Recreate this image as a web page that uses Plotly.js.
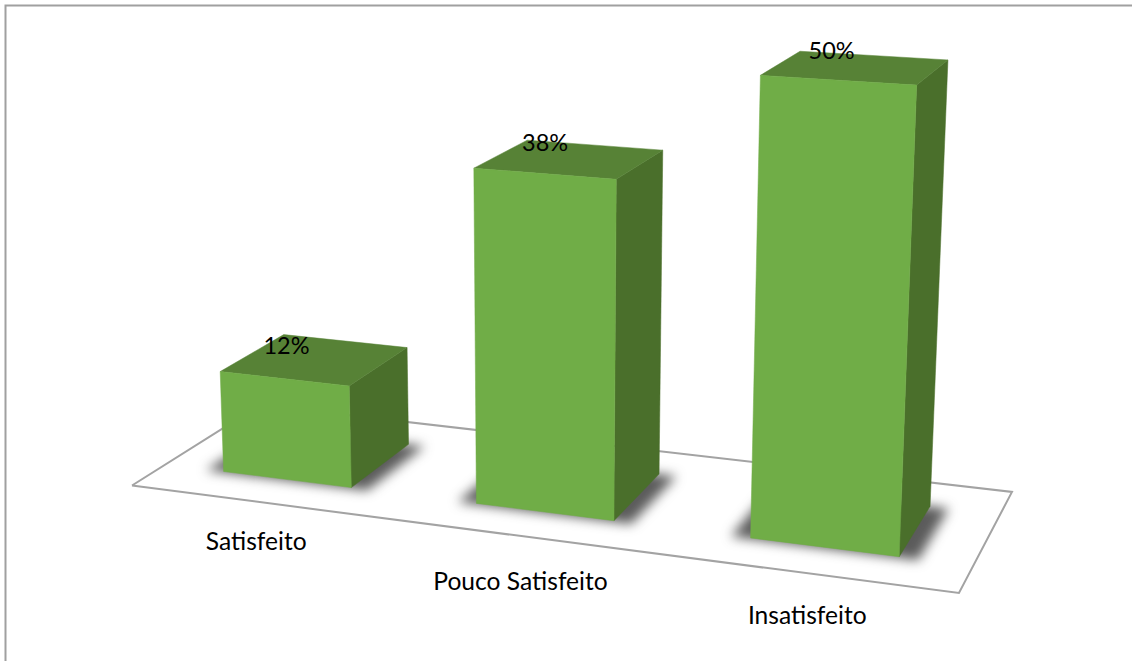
<!DOCTYPE html>
<html>
<head>
<meta charset="utf-8">
<title>Satisfação</title>
<script src="https://cdn.plot.ly/plotly-3.0.1.min.js"></script>
<style>
html,body{margin:0;padding:0;background:#fff}
#chart{width:1132px;height:661px}
#chart text{font-variant-ligatures:none}
</style>
</head>
<body>
<div id="chart"></div>
<script>
// Chart data
const categories = ['Satisfeito', 'Pouco Satisfeito', 'Insatisfeito'];
const percentages = [12, 38, 50];

// Where each bar stands on the floor, as fractions of the floor's width and depth
const barCentres = [0.165, 0.4975, 0.832];
const barHalfWidth = 0.0855;
const barFront = 0.245;
const barBack = 0.755;

// Anchors for the text, in floor fractions
const valueLabelX = [0.110, 0.443, 0.784];
const valueLabelDepth = [0.595, 0.69, 0.75];
const categoryLabelX = [0.228, 0.55, 0.864];
const categoryLabelDepth = [-0.363, -0.397, -0.358];

// Perspective camera: floor fractions and percentage height to page position
const floorRow = [721.1, 155.95, 132];
const floorCol = [42.0, -37.0, 485.5];
const floorW = [-0.1104, 0.1075, 1];
const heightScale = -0.00088;
const vanish = [550, 10000];

function project(x, depth, height) {
  const a = heightScale * height;
  const w = floorW[0] * x + floorW[1] * depth + floorW[2] + a;
  return [
    (floorRow[0] * x + floorRow[1] * depth + floorRow[2] + a * vanish[0]) / w,
    (floorCol[0] * x + floorCol[1] * depth + floorCol[2] + a * vanish[1]) / w
  ];
}

function polygon(corners, fill, line, lineWidth) {
  const pts = corners.map(c => project(c[0], c[1], c[2]));
  pts.push(pts[0]);
  return {
    type: 'scatter', mode: 'lines', fill: 'toself', fillcolor: fill,
    x: pts.map(p => p[0]), y: pts.map(p => p[1]),
    line: { color: line, width: lineWidth },
    hoverinfo: 'skip', showlegend: false
  };
}

const traces = [];

// Floor plate
traces.push(polygon([[0, 0, 0], [1, 0, 0], [1, 1, 0], [0, 1, 0]], '#ffffff', '#a3a3a3', 2));

// Footprint shadow under each bar; softened after the plot is drawn
const shadowStart = traces.length;
barCentres.forEach(c => {
  const hw = barHalfWidth + 0.022;
  const f = barFront - 0.01;
  traces.push(polygon(
    [[c - hw, f, 0], [c + hw, f, 0], [c + hw, barBack, 0], [c - hw, barBack, 0]],
    'rgba(50,50,50,0.8)', 'rgba(0,0,0,0)', 0));
});
const shadowEnd = traces.length;

// Bars: right side, top and front faces
categories.forEach((_, i) => {
  const l = barCentres[i] - barHalfWidth;
  const r = barCentres[i] + barHalfWidth;
  const v = percentages[i];
  traces.push(polygon([[r, barFront, 0], [r, barBack, 0], [r, barBack, v], [r, barFront, v]], '#4a6f2b', '#4a6f2b', 0.5));
  traces.push(polygon([[l, barFront, v], [r, barFront, v], [r, barBack, v], [l, barBack, v]], '#578236', '#578236', 0.5));
  traces.push(polygon([[l, barFront, 0], [r, barFront, 0], [r, barFront, v], [l, barFront, v]], '#70ad47', '#70ad47', 0.5));
});

// Percentage labels sit on the top face of each bar
const valuePts = percentages.map((v, i) => project(valueLabelX[i], valueLabelDepth[i], v));
traces.push({
  type: 'scatter', mode: 'text',
  x: valuePts.map(p => p[0]), y: valuePts.map(p => p[1]),
  text: percentages.map(v => v + '%'),
  textposition: 'middle center',
  textfont: { family: 'Lato, "Open Sans", sans-serif', size: 23.5, color: '#000000' },
  hoverinfo: 'skip', showlegend: false
});

// Category names lie in front of the floor
const categoryPts = categories.map((_, i) => project(categoryLabelX[i], categoryLabelDepth[i], 0));
traces.push({
  type: 'scatter', mode: 'text',
  x: categoryPts.map(p => p[0]), y: categoryPts.map(p => p[1]),
  text: categories,
  textposition: 'middle center',
  textfont: { family: 'Lato, "Open Sans", sans-serif', size: 24.6, color: '#000000' },
  hoverinfo: 'skip', showlegend: false
});

const hiddenAxis = { visible: false, fixedrange: true, showgrid: false, zeroline: false };

Plotly.newPlot('chart', traces, {
  width: 1132, height: 661,
  margin: { l: 0, r: 0, t: 0, b: 0 },
  paper_bgcolor: '#ffffff', plot_bgcolor: '#ffffff',
  showlegend: false,
  xaxis: Object.assign({ range: [0, 1132] }, hiddenAxis),
  yaxis: Object.assign({ range: [661, 0] }, hiddenAxis),
  shapes: [{
    type: 'path', path: 'M 5.5 661 L 5.5 5.5 L 1132 5.5',
    xref: 'x', yref: 'y', line: { color: '#a0a0a0', width: 2 }
  }]
}, { displayModeBar: false, staticPlot: true }).then(gd => {
  // Plotly has no blur option for fills, so the shadow groups get a CSS filter
  const groups = gd.querySelectorAll('.scatterlayer .trace');
  for (let i = shadowStart; i < shadowEnd; i++) {
    groups[i].style.filter = 'blur(6px)';
  }
});
</script>
</body>
</html>
